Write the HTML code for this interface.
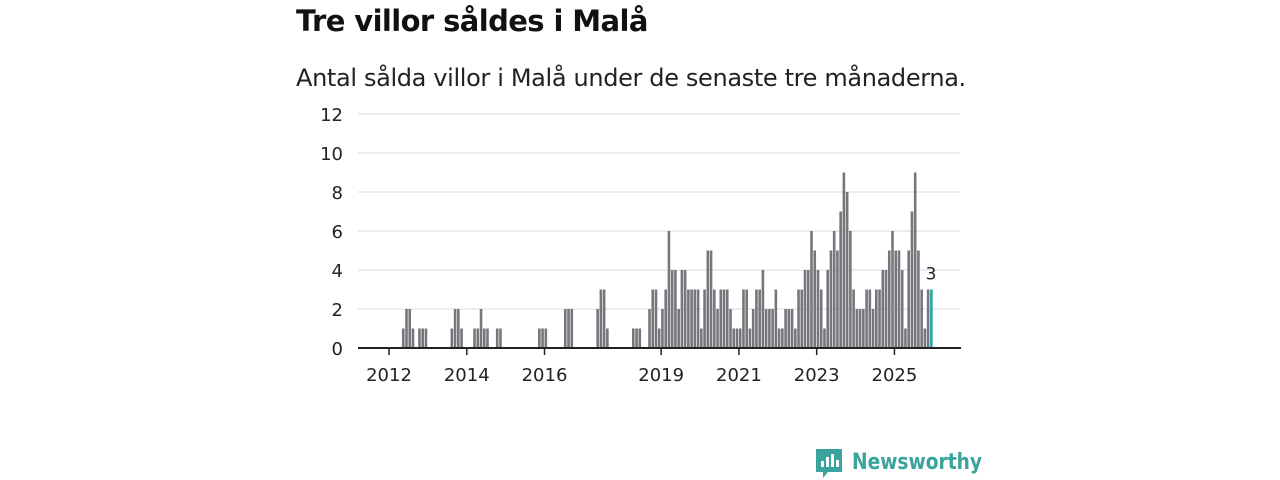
<!DOCTYPE html>
<html><head><meta charset="utf-8">
<style>
body{margin:0;width:1280px;height:480px;background:#fff;font-family:"Liberation Sans","DejaVu Sans",sans-serif;overflow:hidden}
#title{position:absolute;left:296px;top:4px;font-size:29px;font-weight:bold;color:#111;font-family:"DejaVu Sans","Liberation Sans",sans-serif;letter-spacing:-0.6px;white-space:nowrap}
#sub{position:absolute;left:296px;top:64px;font-size:24px;color:#222;font-family:"DejaVu Sans","Liberation Sans",sans-serif;letter-spacing:-0.35px;white-space:nowrap}
svg{position:absolute;left:0;top:0}
</style></head><body>
<div id="title">Tre villor såldes i Malå</div>
<div id="sub">Antal sålda villor i Malå under de senaste tre månaderna.</div>
<svg id="chart" width="1280" height="480"></svg>
<script>
// month index from Jan 2012 -> value
const months=[4,5,6,7,9,10,11,19,20,21,22,26,27,28,29,30,33,34,46,47,48,54,55,56,64,65,66,67,75,76,77,
80,81,82,83,84,85,86,87,88,89,90,91,92,93,94,95,96,97,98,99,100,101,102,103,104,105,106,107,108,109,110,111,112,113,114,115,116,117,118,119,120,121,122,123,124,125,126,127,128,129,130,131,132,133,134,135,136,137,138,139,140,141,142,143,144,145,146,147,148,149,150,151,152,153,154,155,156,157,158,159,160,161,162,163,164,165,166,167];
const values=[1,2,2,1,1,1,1,1,2,2,1,1,1,2,1,1,1,1,1,1,1,2,2,2,2,3,3,1,1,1,1,
2,3,3,1,2,3,6,4,4,2,4,4,3,3,3,3,1,3,5,5,3,2,3,3,3,2,1,1,1,3,3,1,2,3,3,4,2,2,2,3,1,1,2,2,2,1,3,3,4,4,6,5,4,3,1,4,5,6,5,7,9,8,6,3,2,2,2,3,3,2,3,3,4,4,5,6,5,5,4,1,5,7,9,5,3,1,3,3];
const yTicks=[0,2,4,6,8,10,12];
const xTickYears=[2012,2014,2016,2019,2021,2023,2025];
const NS='http://www.w3.org/2000/svg';
const svg=document.getElementById('chart');
const x=i=>389+3.24*i;
const y=v=>348-19.5*v;
function mk(t,a){const e=document.createElementNS(NS,t);for(const k in a)e.setAttribute(k,a[k]);svg.appendChild(e);return e;}
yTicks.forEach(v=>{
 if(v>0){const g=mk('line',{x1:358,x2:960,y1:y(v),y2:y(v),stroke:'#d8d8d8','stroke-width':1});
 
 }
 const t=mk('text',{x:343,y:y(v)+7,'text-anchor':'end','font-size':18,fill:'#222','font-family':'DejaVu Sans, Liberation Sans, sans-serif'});
 t.textContent=v;
 
 
});
const last=months.length-1;
months.forEach((m,k)=>{
 const r=mk('rect',{x:x(m),y:y(values[k]),width:2.6,height:348-y(values[k]),fill:k===last?'#2aa5a5':'#76767c'});
 
 
});
const lab=mk('text',{x:x(months[last])+1,y:y(values[last])-10,'text-anchor':'middle','font-size':17,fill:'#222','font-family':'DejaVu Sans, Liberation Sans, sans-serif'});
lab.textContent=values[last];


const ax=mk('line',{x1:358,x2:961,y1:348,y2:348,stroke:'#222','stroke-width':2});


xTickYears.forEach(yr=>{
 const cx=x((yr-2012)*12);
 const l=mk('line',{x1:cx,x2:cx,y1:348,y2:355,stroke:'#222','stroke-width':1.5});
 
 
 const t=mk('text',{x:cx,y:381,'text-anchor':'middle','font-size':18,fill:'#222','font-family':'DejaVu Sans, Liberation Sans, sans-serif'});
 t.textContent=yr;
 
 
});
</script>
<svg width="1280" height="480" style="position:absolute;left:0;top:0">
<path d="M816 449 h26 v23 h-14 l-5 6 v-6 h-7 z" fill="#3aa39c"/>
<rect x="821" y="461" width="3" height="6" fill="#fff"/><rect x="826" y="457" width="3" height="10" fill="#fff"/><rect x="831" y="454" width="3" height="13" fill="#fff"/><rect x="836" y="460" width="3" height="7" fill="#fff"/>
<text x="852" y="469" font-size="22" font-weight="bold" fill="#3aa39c" font-family="DejaVu Sans, Liberation Sans, sans-serif" textLength="130" lengthAdjust="spacingAndGlyphs">Newsworthy</text>
</svg>
</body></html>
